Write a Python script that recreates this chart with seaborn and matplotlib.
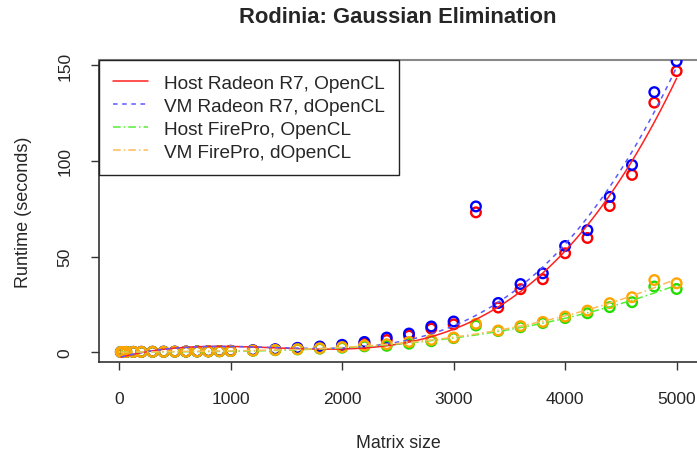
import numpy as np
import pandas as pd
import matplotlib
matplotlib.use("Agg")
import matplotlib.pyplot as plt
from matplotlib.lines import Line2D
import seaborn as sns

# matrix sizes and runtimes (seconds)
sizes = [16, 32, 64, 128, 200, 300, 400, 500, 600, 700, 800, 900, 1000,
         1200, 1400, 1600, 1800, 2000, 2200, 2400, 2600, 2800, 3000,
         3200, 3400, 3600, 3800, 4000, 4200, 4400, 4600, 4800, 5000]

host_r7 = [0.05, 0.06, 0.08, 0.1, 0.12, 0.15, 0.18, 0.22, 0.27, 0.33, 0.4, 0.5, 0.6,
           0.9, 1.3, 1.9, 2.7, 3.4, 4.6, 6.3, 8.6, 12.3, 14.5,
           73.1, 23.3, 32.9, 38.1, 51.7, 59.7, 76.4, 92.7, 130.5, 147.0]
vm_r7 = [0.06, 0.07, 0.09, 0.12, 0.14, 0.17, 0.21, 0.26, 0.31, 0.38, 0.46, 0.57, 0.7,
         1.0, 1.5, 2.2, 2.9, 3.8, 5.3, 7.6, 9.7, 13.4, 16.0,
         76.2, 25.7, 35.6, 41.2, 55.5, 63.8, 81.2, 97.9, 136.0, 152.2]
host_firepro = [0.04, 0.05, 0.06, 0.08, 0.1, 0.12, 0.15, 0.18, 0.22, 0.27, 0.33, 0.4, 0.5,
                0.7, 1.0, 1.4, 1.8, 2.3, 3.0, 3.3, 4.4, 5.7, 7.3,
                13.9, 11.0, 13.0, 15.2, 17.8, 20.3, 23.5, 26.1, 34.3, 33.0]
vm_firepro = [0.05, 0.06, 0.07, 0.09, 0.11, 0.13, 0.16, 0.2, 0.24, 0.29, 0.35, 0.43, 0.55,
              0.75, 1.1, 1.5, 2.0, 2.6, 3.5, 4.1, 5.3, 6.4, 7.6,
              14.8, 11.3, 13.6, 15.8, 18.6, 21.7, 25.6, 28.7, 37.7, 36.0]

# the 3200 run is an outlier, left out of the trend fits
outlier_sizes = [3200]

labels = ["Host Radeon R7, OpenCL", "VM Radeon R7, dOpenCL",
          "Host FirePro, OpenCL", "VM FirePro, dOpenCL"]

df = pd.DataFrame({"size": sizes * 4,
                   "runtime": host_r7 + vm_r7 + host_firepro + vm_firepro,
                   "series": np.repeat(labels, len(sizes))})

# point colour, line colour, line style
styles = {
    labels[0]: ("#ff0000", "#ff2020", "-"),
    labels[1]: ("#0000ff", "#5a5aff", (0, (3, 3))),
    labels[2]: ("#22dd00", "#55ee33", (0, (5, 2, 1, 2))),
    labels[3]: ("#ffa500", "#ffbb55", (0, (5, 2, 1, 2))),
}

sns.set_style("white")
plt.rcParams["font.family"] = ["Liberation Sans", "DejaVu Sans"]

fig = plt.figure(figsize=(6.97, 4.56), dpi=100)
ax = fig.add_axes([0.1416, 0.2039, 0.861, 0.6623])

for name in labels:
    d = df[df["series"] == name]
    pc, lc, ls = styles[name]
    sns.scatterplot(data=d, x="size", y="runtime", ax=ax, marker="o", s=48,
                    facecolor="none", edgecolor=pc, linewidth=1.7, zorder=3)
for name in labels:
    d = df[(df["series"] == name) & ~df["size"].isin(outlier_sizes)]
    pc, lc, ls = styles[name]
    sns.regplot(data=d, x="size", y="runtime", ax=ax, order=3, ci=None,
                scatter=False, truncate=True,
                line_kws=dict(color=lc, ls=ls, lw=1.1, zorder=4))

ax.set_xlim(-183, 5199)
ax.set_ylim(-5.2, 152.8)
ax.set_xticks([0, 1000, 2000, 3000, 4000, 5000])
ax.set_yticks([0, 50, 100, 150])
ax.tick_params(axis="both", direction="out", length=6, width=1, labelsize=12.5,
               color="#333333", bottom=True, left=True)
ax.tick_params(axis="x", pad=15)
ax.tick_params(axis="y", pad=13)
for t in ax.get_yticklabels():
    t.set_rotation(90)
    t.set_va("center")

for side in ["left", "bottom"]:
    ax.spines[side].set_color("#333333")
    ax.spines[side].set_linewidth(1.2)
ax.spines["top"].set_color("#888888")
ax.spines["top"].set_linewidth(1.5)
ax.spines["right"].set_visible(False)

ax.set_xlabel("Matrix size", fontsize=12.8, labelpad=20)
ax.set_ylabel("Runtime (seconds)", fontsize=13, labelpad=18)
fig.suptitle("Rodinia: Gaussian Elimination", fontsize=15.8, fontweight="bold",
             x=0.571, y=0.985)

handles = [Line2D([], [], color=styles[n][1], ls=styles[n][2], lw=1.1) for n in labels]
leg = ax.legend(handles, labels, loc="upper left", bbox_to_anchor=(0, 1),
                borderaxespad=0, fancybox=False, edgecolor="#222222",
                fontsize=13.7, handlelength=1.85, handletextpad=0.85,
                labelspacing=0.3, borderpad=0.75, framealpha=1)
leg.get_frame().set_linewidth(1.0)

fig.savefig("out.png", dpi=100)
